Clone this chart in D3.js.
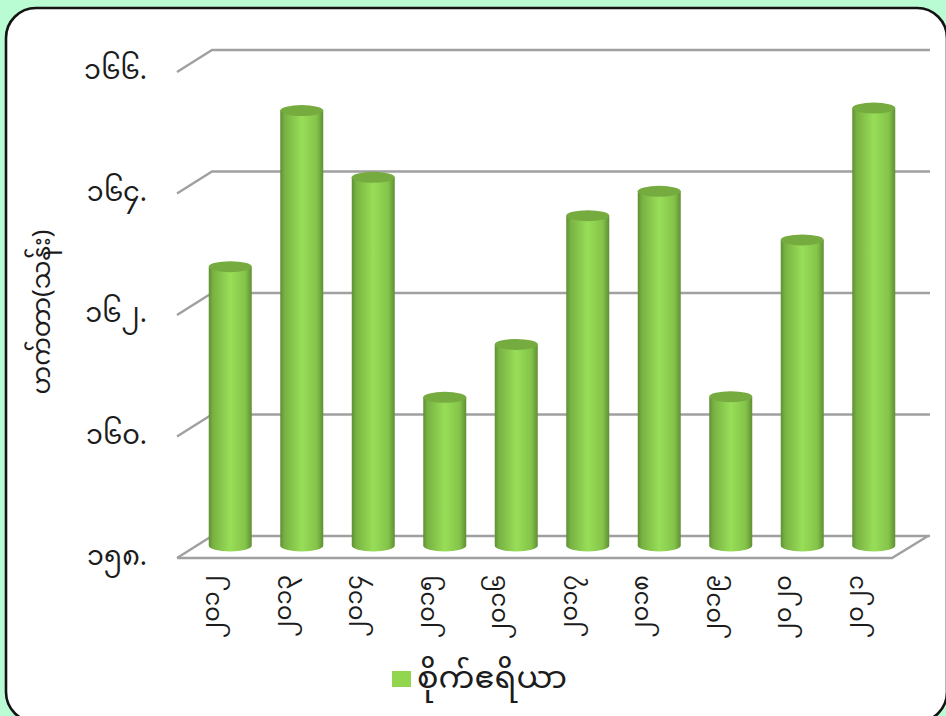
<!DOCTYPE html>
<html><head><meta charset="utf-8">
<script src="https://cdn.jsdelivr.net/npm/d3@7"></script>
<style>html,body{margin:0;padding:0;background:#b9fbd2;overflow:hidden}svg{display:block}
text{font-family:"Noto Sans Myanmar","Padauk","Noto Sans","DejaVu Sans",sans-serif;fill:#1c1c1c}</style>
</head><body><div id="c"></div>
<script>
const categories = ["၂၀၁၂","၂၀၁၃","၂၀၁၄","၂၀၁၅","၂၀၁၆","၂၀၁၇","၂၀၁၈","၂၀၁၉","၂၀၂၀","၂၀၂၁"];
const values = [162.59,165.16,164.06,160.44,161.31,163.43,163.83,160.45,163.03,165.20];
const yTicks = [158,160,162,164,166];
const yTickLabels = ["၁၅၈.","၁၆၀.","၁၆၂.","၁၆၄.","၁၆၆."];
const yTitle = "ဟက်တာ(သန်း)";
const seriesName = "စိုက်ဧရိယာ";

const W=946,H=716, dx=35, dy=-22;
const svg=d3.select("#c").append("svg").attr("width",W).attr("height",H);
const defs=svg.append("defs");
const g=defs.append("linearGradient").attr("id","cyl");
[[0,"#5f8f35"],[.1,"#78b242"],[.5,"#98de58"],[.85,"#84c349"],[1,"#5f8f35"]].forEach(([o,c])=>g.append("stop").attr("offset",o).attr("stop-color",c));
svg.append("rect").attr("x",6).attr("y",8).attr("width",941).attr("height",714).attr("rx",30)
  .attr("fill","#fff").attr("stroke","#141414").attr("stroke-width",2.6);

const y=d3.scaleLinear().domain([158,166]).range([558,72]);
const x=d3.scaleBand().domain(categories).range([177,892]);
const grid=svg.append("g").attr("fill","none").attr("stroke","#a0a0a0").attr("stroke-width",2.4);
yTicks.forEach(t=>{
  grid.append("path").attr("d",`M${x.range()[0]},${y(t)}l${dx},${dy}H930`);
});
grid.append("path").attr("d",`M${x.range()[0]},${y(158)}H${x.range()[1]}l${dx+1},${dy}`);

const bw=43, ry=6, mid=-12.5;
const bars=svg.append("g").selectAll("g").data(categories).join("g");
bars.each(function(c,i){
  const cx=x(c)+x.bandwidth()/2+17.5, top=y(values[i])+mid, base=y(158)+mid, s=d3.select(this);
  s.append("path").attr("fill","url(#cyl)")
   .attr("d",`M${cx-bw/2},${top}V${base}A${bw/2},${ry} 0 0 0 ${cx+bw/2},${base}V${top}Z`);
  s.append("ellipse").attr("cx",cx).attr("cy",top).attr("rx",bw/2).attr("ry",ry-.5).attr("fill","#76ab40");
});

svg.append("g").selectAll("text").data(yTicks).join("text")
  .attr("x",147).attr("y",t=>y(t)+7).attr("text-anchor","end").attr("font-size",27)
  .text((t,i)=>yTickLabels[i]);
svg.append("g").selectAll("text").data(categories).join("text")
  .attr("transform",c=>`translate(${x(c)+x.bandwidth()/2+17.5-11},575) rotate(-90)`)
  .attr("text-anchor","end").attr("font-size",24).text(c=>c);
svg.append("text").attr("transform","translate(50,312) rotate(-90)").attr("text-anchor","middle")
  .attr("font-size",25.5).text(yTitle);
svg.append("rect").attr("x",392).attr("y",671).attr("width",19).attr("height",16).attr("fill","#92d650");
svg.append("text").attr("x",417).attr("y",688).attr("font-size",30)
  .attr("textLength",150).attr("lengthAdjust","spacingAndGlyphs").text(seriesName);
</script></body></html>
